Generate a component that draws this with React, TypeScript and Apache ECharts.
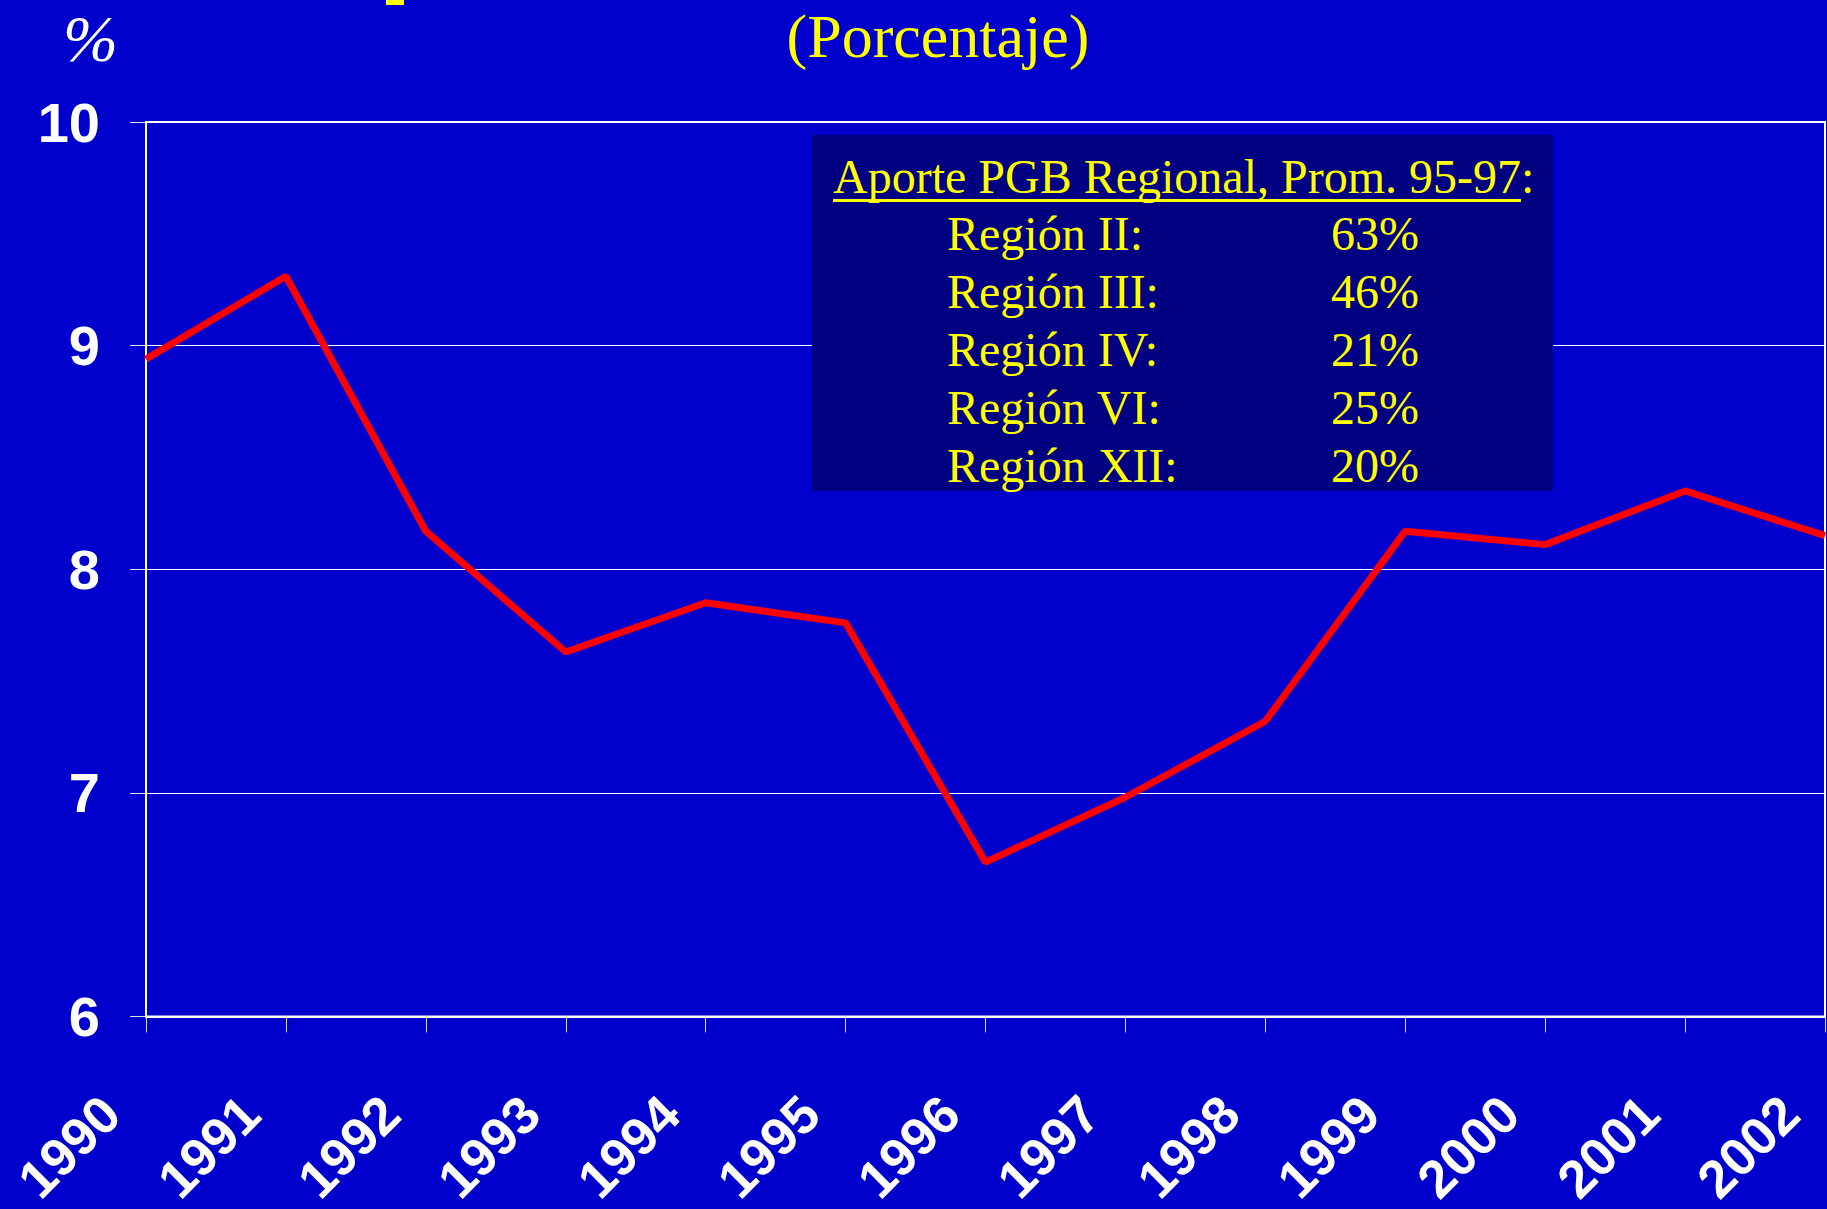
import React, { useEffect, useRef } from "react";
import * as echarts from "echarts";

const years = ["1990", "1991", "1992", "1993", "1994", "1995", "1996", "1997", "1998", "1999", "2000", "2001", "2002"];
const values = [8.94, 9.31, 8.17, 7.63, 7.85, 7.76, 6.69, 6.98, 7.32, 8.17, 8.11, 8.35, 8.15];
const yTicks = { min: 6, max: 10, interval: 1 };
const titleText = "(Porcentaje)";
const unitText = "%";
const boxHeader = "Aporte PGB Regional, Prom. 95-97";
const regions = ["Región II:", "Región III:", "Región IV:", "Región VI:", "Región XII:"];
const shares = ["63%", "46%", "21%", "25%", "20%"];

const BG = "#0000CC";
const NAVY = "#000080";
const YELLOW = "#FFFF00";
const SERIF = '"Liberation Serif", "Times New Roman", serif';
const SANS = '"Liberation Sans", Arial, sans-serif';

export default function App() {
  const ref = useRef<HTMLDivElement>(null);
  useEffect(() => {
    if (!ref.current) return;
    const chart = echarts.init(ref.current, undefined, { renderer: "svg" });
    const shadow = { shadowColor: "rgba(0,0,0,0.9)", shadowOffsetX: 2, shadowOffsetY: 2, shadowBlur: 0 };
    const rowY0 = 233;
    const rowStep = 58;
    const graphics: any[] = [
      { type: "rect", z: 20, shape: { x: 386, y: 0, width: 18, height: 5 }, style: { fill: YELLOW } },
      {
        type: "text", z: 20, x: 63, y: 38,
        style: { text: unitText, fill: "#fff", font: `italic 66px ${SERIF}`, textVerticalAlign: "middle" },
      },
      {
        type: "text", z: 20, x: 938, y: 36,
        style: { text: titleText, fill: YELLOW, font: `62px ${SERIF}`, textAlign: "center", textVerticalAlign: "middle" },
      },
      { type: "rect", z: 20, shape: { x: 812, y: 135, width: 741, height: 356 }, style: { fill: NAVY } },
      {
        type: "text", z: 21, x: 833, y: 176,
        style: { text: boxHeader + ":", fill: YELLOW, font: `48px ${SERIF}`, textVerticalAlign: "middle", ...shadow },
      },
      { type: "rect", z: 21, shape: { x: 833, y: 199, width: 688, height: 3 }, style: { fill: YELLOW } },
    ];
    regions.forEach((r, i) => {
      graphics.push({
        type: "text", z: 21, x: 947, y: rowY0 + i * rowStep,
        style: { text: r, fill: YELLOW, font: `48px ${SERIF}`, textVerticalAlign: "middle", ...shadow },
      });
      graphics.push({
        type: "text", z: 21, x: 1331, y: rowY0 + i * rowStep,
        style: { text: shares[i], fill: YELLOW, font: `48px ${SERIF}`, textVerticalAlign: "middle", ...shadow },
      });
    });

    chart.setOption({
      animation: false,
      backgroundColor: BG,
      grid: {
        left: 146, right: 2, top: 122, bottom: 190,
        show: true, borderColor: "#ffffff", borderWidth: 2, backgroundColor: "transparent",
        containLabel: false,
      },
      xAxis: {
        type: "category",
        data: years,
        boundaryGap: false,
        axisLine: { show: true, lineStyle: { color: "#ffffff", width: 2 } },
        axisTick: { show: true, length: 16, inside: false, lineStyle: { color: "#dddddd", width: 1 } },
        axisLabel: {
          interval: 0, rotate: 45, color: "#ffffff", fontFamily: SANS, fontWeight: "bold", fontSize: 53,
          margin: 53, padding: [0, 50, 0, 0],
        },
        splitLine: { show: false },
      },
      yAxis: {
        type: "value",
        min: yTicks.min, max: yTicks.max, interval: yTicks.interval,
        axisLine: { show: true, lineStyle: { color: "#ffffff", width: 2 } },
        axisTick: { show: true, length: 16, lineStyle: { color: "#dddddd", width: 1 } },
        axisLabel: { color: "#ffffff", fontFamily: SANS, fontWeight: "bold", fontSize: 56, margin: 46 },
        splitLine: { show: true, lineStyle: { color: "#ffffff", width: 1 } },
      },
      series: [
        {
          type: "line",
          data: values,
          showSymbol: false,
          symbol: "none",
          lineStyle: { color: "#FF0000", width: 7 },
          z: 3,
        },
      ],
      graphic: graphics,
    });
    return () => chart.dispose();
  }, []);
  return <div ref={ref} style={{ position: "fixed", left: 0, top: 0, width: 1827, height: 1209 }} />;
}
